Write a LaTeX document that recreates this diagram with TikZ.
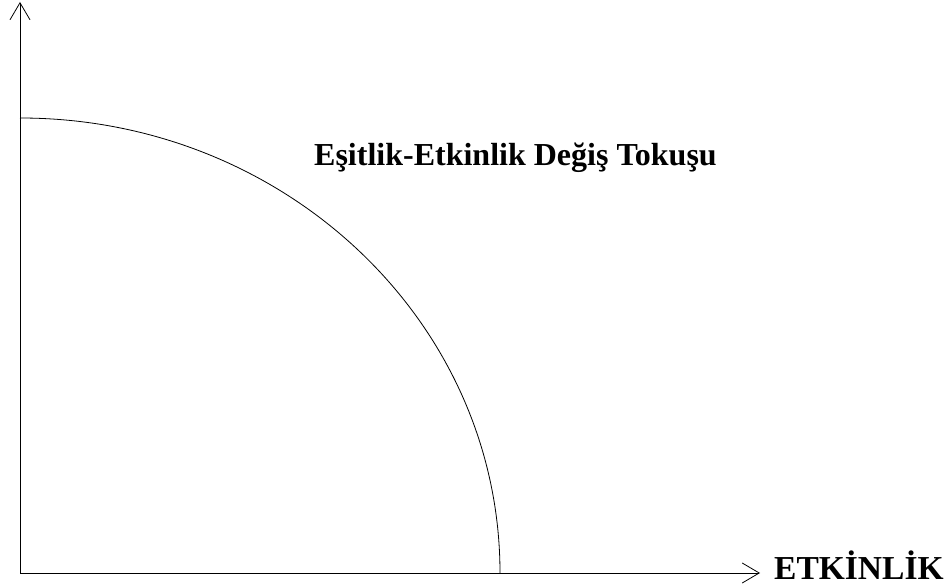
\documentclass[tikz,border=0pt]{standalone}
\usepackage{fontspec}
\setmainfont{Liberation Serif}
\usetikzlibrary{arrows.meta}
\begin{document}
\begin{tikzpicture}[x=1pt,y=1pt,
  axis/.style={line width=0.8pt,-{Straight Barb[length=17pt,width=20pt,line width=0.8pt]}},
  curve/.style={line width=0.8pt},
  lbl/.style={font=\bfseries\fontsize{32}{36}\selectfont,inner sep=0pt},
  xlbl/.style={font=\bfseries\fontsize{33.5}{38}\selectfont,inner sep=0pt}]
\useasboundingbox (0,0) rectangle (946,587);
\coordinate (O) at (20,14);
\coordinate (ytop) at (20,585);
\coordinate (xend) at (760,14);
\coordinate (arcstart) at (500,14);
\draw[axis] (O) -- (ytop);
\draw[axis] (O) -- (xend);
\draw[curve] (arcstart) arc[start angle=0,end angle=90,x radius=480,y radius=455];
\node[lbl,anchor=base west] (title) at (314,421) {Eşitlik-Etkinlik Değiş Tokuşu};
\node[xlbl,anchor=base west] (xlabel) at (774,8) {ETKİNLİK};
\end{tikzpicture}
\end{document}
